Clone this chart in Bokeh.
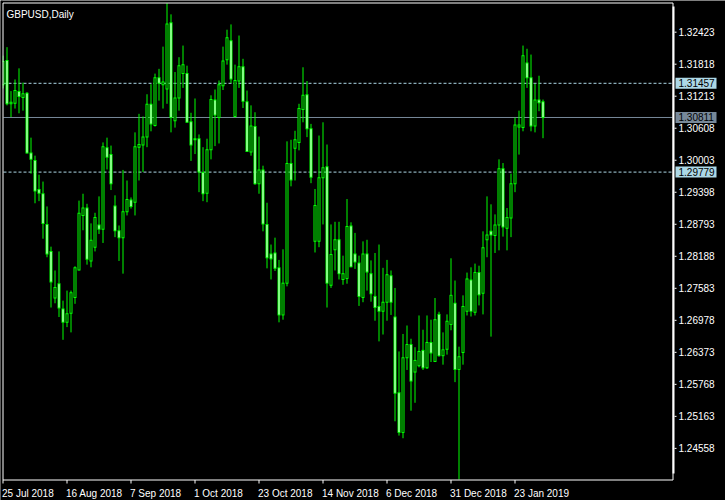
from bokeh.plotting import figure
from bokeh.models import Range1d, ColumnDataSource
from bokeh.core.properties import value
from bokeh.embed import file_html
from bokeh.resources import INLINE

chart_title = "GBPUSD,Daily"

opens = [1.3143, 1.3189, 1.3107, 1.3108, 1.3130, 1.3119, 1.3127, 1.3014, 1.3000, 1.2945,
         1.2937, 1.2879, 1.2828, 1.2740, 1.2767, 1.2719, 1.2694, 1.2711, 1.2741, 1.2793,
         1.2896, 1.2910, 1.2810, 1.2836, 1.2878, 1.2870, 1.3024, 1.3011, 1.2914, 1.2867,
         1.2854, 1.2903, 1.2925, 1.2921, 1.3025, 1.3029, 1.3044, 1.3106, 1.3066, 1.3156,
         1.3143, 1.3135, 1.3260, 1.3075, 1.3118, 1.3164, 1.3164, 1.3073, 1.3039, 1.3041,
         1.2977, 1.2938, 1.3020, 1.3114, 1.3081, 1.3141, 1.3190, 1.3226, 1.3083, 1.3150,
         1.3177, 1.3111, 1.3016, 1.3064, 1.2956, 1.2982, 1.2879, 1.2823, 1.2825, 1.2797,
         1.2708, 1.2768, 1.2994, 1.3023, 1.3034, 1.3096, 1.3124, 1.3060, 1.2847, 1.2847,
         1.2967, 1.2988, 1.2764, 1.2831, 1.2850, 1.2775, 1.2777, 1.2876, 1.2823, 1.2806,
         1.2741, 1.2823, 1.2786, 1.2743, 1.2724, 1.2715, 1.2732, 1.2782, 1.2704, 1.2561,
         1.2486, 1.2627, 1.2652, 1.2600, 1.2612, 1.2641, 1.2608, 1.2656, 1.2620, 1.2709,
         1.2631, 1.2643, 1.2690, 1.2730, 1.2605, 1.2637, 1.2715, 1.2774, 1.2713, 1.2788,
         1.2749, 1.2850, 1.2866, 1.2858, 1.2878, 1.2984, 1.2872, 1.2891, 1.2956, 1.3063,
         1.3062, 1.3184, 1.3156, 1.3065, 1.3114, 1.3111]

highs = [1.3198, 1.3214, 1.3131, 1.3153, 1.3174, 1.3147, 1.3129, 1.3043, 1.3009, 1.2973,
         1.2960, 1.2913, 1.2837, 1.2792, 1.2828, 1.2735, 1.2754, 1.2754, 1.2800, 1.2924,
         1.2937, 1.2918, 1.2881, 1.2901, 1.2932, 1.3034, 1.3043, 1.3028, 1.2934, 1.2877,
         1.2982, 1.2962, 1.2930, 1.3053, 1.3088, 1.3083, 1.3125, 1.3144, 1.3164, 1.3173,
         1.3215, 1.3297, 1.3276, 1.3167, 1.3195, 1.3217, 1.3179, 1.3090, 1.3117, 1.3049,
         1.3025, 1.3041, 1.3123, 1.3134, 1.3151, 1.3215, 1.3247, 1.3257, 1.3181, 1.3236,
         1.3192, 1.3132, 1.3104, 1.3091, 1.3045, 1.2990, 1.2920, 1.2841, 1.2854, 1.2812,
         1.2832, 1.3036, 1.3039, 1.3056, 1.3107, 1.3176, 1.3150, 1.3069, 1.2946, 1.3047,
         1.3072, 1.3030, 1.2879, 1.2884, 1.2884, 1.2820, 1.2927, 1.2883, 1.2863, 1.2820,
         1.2847, 1.2850, 1.2811, 1.2825, 1.2841, 1.2797, 1.2812, 1.2792, 1.2759, 1.2639,
         1.2672, 1.2688, 1.2663, 1.2647, 1.2707, 1.2680, 1.2707, 1.2699, 1.2740, 1.2714,
         1.2675, 1.2709, 1.2815, 1.2773, 1.2648, 1.2745, 1.2788, 1.2798, 1.2805, 1.2801,
         1.2866, 1.2932, 1.2917, 1.2898, 1.3002, 1.2995, 1.2910, 1.2975, 1.3081, 1.3094,
         1.3217, 1.3211, 1.3200, 1.3145, 1.3160, 1.3115]

lows = [1.3136, 1.3104, 1.3082, 1.3098, 1.3089, 1.3094, 1.3013, 1.2975, 1.2919, 1.2923,
        1.2852, 1.2817, 1.2722, 1.2730, 1.2704, 1.2661, 1.2685, 1.2675, 1.2729, 1.2792,
        1.2868, 1.2803, 1.2798, 1.2828, 1.2861, 1.2844, 1.2983, 1.2944, 1.2855, 1.2810,
        1.2786, 1.2896, 1.2909, 1.2896, 1.2962, 1.2978, 1.3025, 1.3055, 1.3064, 1.3113,
        1.3098, 1.3107, 1.3053, 1.3062, 1.3094, 1.3137, 1.3071, 1.2999, 1.3012, 1.2940,
        1.2923, 1.2921, 1.3002, 1.3027, 1.3032, 1.3133, 1.3181, 1.3146, 1.3081, 1.3137,
        1.3099, 1.3016, 1.3009, 1.2954, 1.2937, 1.2866, 1.2796, 1.2775, 1.2791, 1.2694,
        1.2699, 1.2762, 1.2951, 1.2962, 1.3019, 1.3072, 1.3044, 1.2957, 1.2826, 1.2836,
        1.2879, 1.2722, 1.2759, 1.2792, 1.2775, 1.2765, 1.2767, 1.2798, 1.2795, 1.2725,
        1.2732, 1.2754, 1.2733, 1.2697, 1.2658, 1.2671, 1.2697, 1.2708, 1.2507, 1.2480,
        1.2475, 1.2604, 1.2527, 1.2542, 1.2609, 1.2604, 1.2606, 1.2619, 1.2619, 1.2629,
        1.2614, 1.2633, 1.2679, 1.2581, 1.2397, 1.2614, 1.2707, 1.2705, 1.2707, 1.2726,
        1.2709, 1.2817, 1.2667, 1.2825, 1.2830, 1.2856, 1.2830, 1.2855, 1.2940, 1.3011,
        1.3055, 1.3137, 1.3055, 1.3053, 1.3093, 1.3042]

closes = [1.3187, 1.3107, 1.3110, 1.3132, 1.3121, 1.3126, 1.3014, 1.3002, 1.2942, 1.2938,
          1.2881, 1.2823, 1.2770, 1.2760, 1.2721, 1.2694, 1.2710, 1.2750, 1.2797, 1.2900,
          1.2910, 1.2813, 1.2849, 1.2892, 1.2870, 1.3026, 1.3006, 1.2956, 1.2867, 1.2854,
          1.2903, 1.2926, 1.2913, 1.3026, 1.3030, 1.3044, 1.3106, 1.3069, 1.3156, 1.3146,
          1.3148, 1.3258, 1.3081, 1.3118, 1.3179, 1.3181, 1.3072, 1.3029, 1.3041, 1.2978,
          1.2937, 1.3020, 1.3115, 1.3086, 1.3143, 1.3188, 1.3232, 1.3154, 1.3151, 1.3177,
          1.3112, 1.3017, 1.3065, 1.2956, 1.2982, 1.2880, 1.2816, 1.2814, 1.2796, 1.2708,
          1.2768, 1.2994, 1.2963, 1.3039, 1.3098, 1.3123, 1.3060, 1.2968, 1.2915, 1.2967,
          1.2986, 1.2768, 1.2822, 1.2850, 1.2786, 1.2786, 1.2875, 1.2799, 1.2808, 1.2743,
          1.2823, 1.2789, 1.2748, 1.2722, 1.2715, 1.2732, 1.2784, 1.2732, 1.2560, 1.2486,
          1.2627, 1.2652, 1.2583, 1.2622, 1.2639, 1.2608, 1.2656, 1.2636, 1.2699, 1.2631,
          1.2642, 1.2696, 1.2745, 1.2605, 1.2629, 1.2724, 1.2776, 1.2715, 1.2788, 1.2746,
          1.2835, 1.2859, 1.2859, 1.2878, 1.2984, 1.2874, 1.2892, 1.2956, 1.3067, 1.3067,
          1.3198, 1.3156, 1.3065, 1.3114, 1.3109, 1.30811]

date_tick_bars = [0, 16, 32, 48, 64, 80, 96, 112, 128]
date_tick_labels = ["25 Jul 2018", "16 Aug 2018", "7 Sep 2018", "1 Oct 2018", "23 Oct 2018",
                    "14 Nov 2018", "6 Dec 2018", "31 Dec 2018", "23 Jan 2019"]

price_ticks = [1.32423, 1.31818, 1.31213, 1.30608, 1.30003, 1.29398, 1.28793,
               1.28188, 1.27583, 1.26978, 1.26373, 1.25768, 1.25163, 1.24558]

dashed_levels = [1.31457, 1.29779]
bid_level = 1.30811

price_min = 1.2397     # chart bottom edge
price_max = 1.32984    # chart top edge

# ---------------- layout (page pixels) ----------------
W, H = 725, 500
PX_PER_BAR = 4.0
PLOT_L, PLOT_R, PLOT_T, PLOT_B = 2, 672, 2, 479
FIRST_BAR_PX = 2.5
price_per_px = (price_max - price_min) / (PLOT_B - PLOT_T)
x_lo = -FIRST_BAR_PX / PX_PER_BAR
x_hi = x_lo + W / PX_PER_BAR
y_hi = price_max + PLOT_T * price_per_px
y_lo = y_hi - H * price_per_px


def dx(px):
    return x_lo + px / PX_PER_BAR


def dy(py):
    return y_hi - py * price_per_px


FONT = value("Liberation Sans")
FSIZE = value("10px")
CANDLE = "#00FF00"
DASH_COL = "#ADD8E6"
BID_COL = "#778899"

n = len(opens)
half = 0.5 * price_per_px
body_top = [max(o, c) for o, c in zip(opens, closes)]
body_bot = [min(o, c) for o, c in zip(opens, closes)]
inner_top = [t - half if t - b > 2 * half else (t + b) / 2 for t, b in zip(body_top, body_bot)]
inner_bot = [b + half if t - b > 2 * half else (t + b) / 2 for t, b in zip(body_top, body_bot)]
src = ColumnDataSource(dict(
    x=list(range(n)), high=highs, low=lows,
    otop=[t + half for t in body_top], obot=[b - half for b in body_bot],
    itop=inner_top, ibot=inner_bot,
    fill=["white" if c < o else "black" for o, c in zip(opens, closes)],
))

p = figure(width=W, height=H, output_backend="svg", toolbar_location=None, title=None,
           x_range=Range1d(x_lo, x_hi), y_range=Range1d(y_lo, y_hi),
           x_axis_location=None, y_axis_location=None, min_border=0,
           background_fill_color="black", border_fill_color="black")
p.outline_line_color = None
p.grid.visible = False

# level lines (under the candles)
xl, xr = dx(PLOT_L + 1), dx(PLOT_R)
p.segment(x0=[xl] * len(dashed_levels), x1=[xr] * len(dashed_levels),
          y0=dashed_levels, y1=dashed_levels, line_color=DASH_COL, line_width=1, line_dash="3 2")
p.segment(x0=[xl], x1=[xr], y0=[bid_level], y1=[bid_level], line_color=BID_COL, line_width=1)

# candles: wick, green 3px body, 1px white (bear) / black (bull) core
p.segment(x0="x", y0="low", x1="x", y1="high", source=src, line_color=CANDLE, line_width=1)
p.vbar(x="x", top="otop", bottom="obot", width=0.75, source=src,
       fill_color=CANDLE, line_color=None)
p.vbar(x="x", top="itop", bottom="ibot", width=0.25, source=src,
       fill_color="fill", line_color=None)

# keep the first, cut-off candle inside the chart border
p.quad(left=[dx(0)], right=[dx(PLOT_L)], top=[dy(0)], bottom=[dy(H)],
       fill_color="black", line_color=None)

# chart border and price scale line
p.quad(left=[dx(PLOT_L + 0.5)], right=[dx(PLOT_R + 0.5)], top=[dy(PLOT_T + 0.5)], bottom=[dy(PLOT_B + 0.5)],
       fill_color=None, line_color="white", line_width=1)
p.segment(x0=[dx(PLOT_R + 1)], x1=[dx(PLOT_R + 1)], y0=[dy(PLOT_T + 4)], y1=[dy(PLOT_B - 6)],
          line_color="white", line_width=2)

# price scale ticks and labels
nt = len(price_ticks)
p.segment(x0=[dx(PLOT_R + 2)] * nt, x1=[dx(PLOT_R + 4)] * nt, y0=price_ticks, y1=price_ticks,
          line_color="white", line_width=1)
p.text(x=[dx(PLOT_R + 6)] * nt, y=price_ticks, text=["%.5f" % t for t in price_ticks],
       text_color="white", text_font=FONT, text_font_size=FSIZE,
       text_align="left", text_baseline="middle")

# time scale ticks and labels
nd = len(date_tick_bars)
p.segment(x0=date_tick_bars, x1=date_tick_bars, y0=[dy(PLOT_B + 0.5)] * nd, y1=[dy(PLOT_B + 4)] * nd,
          line_color="white", line_width=1)
p.text(x=date_tick_bars, y=[dy(PLOT_B + 14)] * nd, text=date_tick_labels, x_offset=-1,
       text_color="white", text_font=FONT, text_font_size=FSIZE,
       text_align="left", text_baseline="alphabetic")

# price tags of the level lines
tag_levels = [dashed_levels[0], bid_level, dashed_levels[1]]
tag_colors = [DASH_COL, BID_COL, DASH_COL]
p.rect(x=[dx(PLOT_R + 23.5)] * 3, y=tag_levels, width=41, height=11,
       width_units="screen", height_units="screen", fill_color=tag_colors, line_color=None)
p.text(x=[dx(PLOT_R + 6)] * 3, y=tag_levels, text=["%.5f" % v for v in tag_levels],
       text_color="black", text_font=FONT, text_font_size=FSIZE,
       text_align="left", text_baseline="middle")

# title
p.text(x=[dx(PLOT_L + 4)], y=[dy(PLOT_T + 11.5)], text=[chart_title],
       text_color="white", text_font=FONT, text_font_size=FSIZE,
       text_align="left", text_baseline="alphabetic")

open("out.html", "w").write(file_html(p, INLINE))
